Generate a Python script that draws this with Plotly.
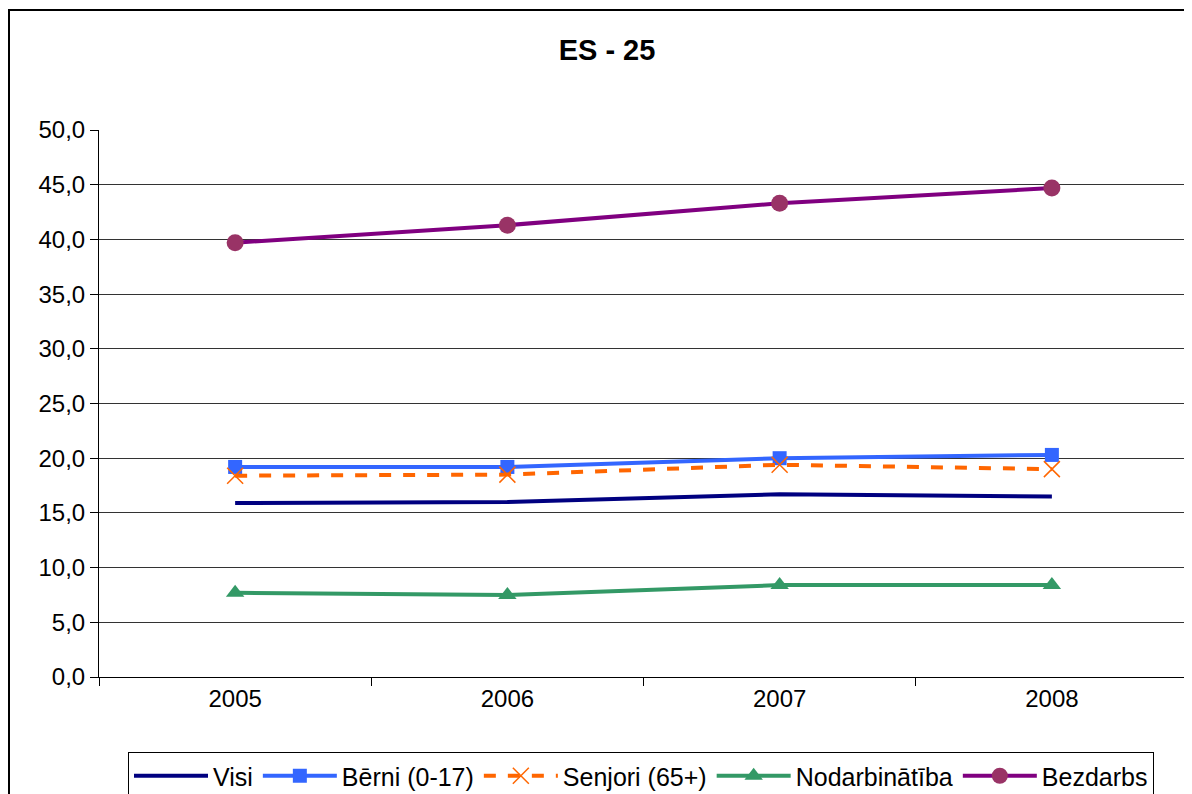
import plotly.graph_objects as go

years = ["2005", "2006", "2007", "2008"]
visi = [15.9, 16.0, 16.7, 16.5]
berni = [19.2, 19.2, 20.0, 20.3]
senjori = [18.4, 18.5, 19.4, 19.0]
nodarb = [7.7, 7.5, 8.4, 8.4]
bezdarbs = [39.7, 41.3, 43.3, 44.7]

ytickvals = [0, 5, 10, 15, 20, 25, 30, 35, 40, 45, 50]
yticktext = ["0,0", "5,0", "10,0", "15,0", "20,0", "25,0", "30,0", "35,0", "40,0", "45,0", "50,0"]

W, H = 1192, 794
L, T, R, B = 91, 122, 12, 125
PW = W - L - R
PH = H - T - B

fig = go.Figure()
fig.add_trace(go.Scatter(x=years, y=visi, name="Visi", mode="lines",
                         line=dict(color="#000080", width=4)))
fig.add_trace(go.Scatter(x=years, y=berni, name="Bērni (0-17)", mode="lines+markers",
                         line=dict(color="#3366FF", width=4),
                         marker=dict(symbol="square", size=14, color="#3366FF")))
fig.add_trace(go.Scatter(x=years, y=senjori, name="Senjori (65+)", mode="lines+markers",
                         line=dict(color="#FF6600", width=4, dash="dash"),
                         marker=dict(symbol="x-thin", size=16, color="#FF6600",
                                     line=dict(color="#FF6600", width=1.5))))
fig.add_trace(go.Scatter(x=years, y=nodarb, name="Nodarbinātība", mode="lines+markers",
                         line=dict(color="#339966", width=4),
                         marker=dict(symbol="triangle-up", size=16, color="#339966")))
fig.add_trace(go.Scatter(x=years, y=bezdarbs, name="Bezdarbs", mode="lines+markers",
                         line=dict(color="#800080", width=4),
                         marker=dict(symbol="circle", size=17, color="#993366")))

fig.update_layout(
    width=W, height=H,
    margin=dict(l=L, r=R, t=T, b=B, autoexpand=False),
    paper_bgcolor="white", plot_bgcolor="white",
    font=dict(family="Liberation Sans, Arial, sans-serif", size=24, color="black"),
    title=dict(text="<b>ES - 25</b>", x=599 / W, xanchor="center", y=1 - 42 / H, yanchor="middle",
               font=dict(size=29, color="black")),
    showlegend=True,
    legend=dict(orientation="h", x=(633 - L) / PW, xanchor="center", y=-(744 - (T + PH)) / PH,
                yanchor="top", bordercolor="black", borderwidth=1, bgcolor="white",
                font=dict(size=25), tracegroupgap=0, itemwidth=74),
    xaxis=dict(type="category", range=[-0.5, 3.5], showgrid=False,
               showline=True, linecolor="black", linewidth=1,
               ticks="outside", tickson="boundaries", ticklen=8, tickcolor="black",
               tickfont=dict(size=24)),
    yaxis=dict(range=[0, 50], tickvals=ytickvals, ticktext=yticktext,
               showgrid=True, gridcolor="#333333", gridwidth=1,
               showline=True, linecolor="black", linewidth=1,
               ticks="outside", ticklen=8, tickcolor="black", tickfont=dict(size=24),
               zeroline=False),
    shapes=[dict(type="rect", xref="paper", yref="paper",
                 x0=(1 - L) / PW, x1=(W + 20 - L) / PW,
                 y0=-(H + 20 - T - PH) / PH, y1=(T + PH - 2) / PH,
                 line=dict(color="black", width=2), fillcolor="rgba(0,0,0,0)",
                 layer="below")],
)

fig.write_html("out.html")
